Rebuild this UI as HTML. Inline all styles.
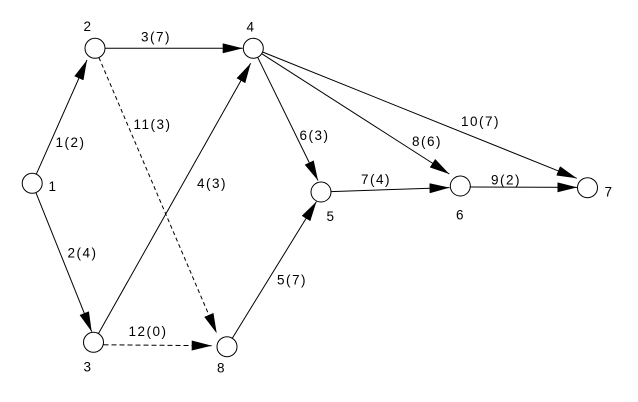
<!DOCTYPE html>
<html>
<head>
<meta charset="utf-8">
<style>
html,body{margin:0;padding:0;background:#fff;}
svg{display:block;}
text{font-family:"Liberation Sans",Arial,sans-serif;font-size:13.5px;letter-spacing:1.5px;fill:#000;}
</style>
</head>
<body>
<svg width="638" height="402" viewBox="0 0 638 402" xmlns="http://www.w3.org/2000/svg">
<defs>
<marker id="ah" markerUnits="userSpaceOnUse" markerWidth="20" markerHeight="10" viewBox="0 0 20 10" refX="20" refY="5" orient="auto">
<path d="M0,0 L20,5 L0,10 z" fill="#000"/>
</marker>
</defs>
<g stroke="#000" stroke-width="1" fill="none">
<line x1="36.3" y1="174.2" x2="87" y2="60" marker-end="url(#ah)"/>
<line x1="35.9" y1="192.6" x2="91.7" y2="331.7" marker-end="url(#ah)"/>
<line x1="105.3" y1="48.3" x2="242.7" y2="48.3" marker-end="url(#ah)"/>
<line x1="98.9" y1="57.5" x2="216.7" y2="333.3" stroke-dasharray="4,3" marker-end="url(#ah)"/>
<line x1="98.4" y1="333.6" x2="250.7" y2="63.3" marker-end="url(#ah)"/>
<line x1="103.5" y1="344.8" x2="211.7" y2="345.7" stroke-dasharray="5,3" marker-end="url(#ah)"/>
<line x1="232.3" y1="338.2" x2="316.5" y2="201.5" marker-end="url(#ah)"/>
<line x1="257.7" y1="57.3" x2="318" y2="180.5" marker-end="url(#ah)"/>
<line x1="261.7" y1="53.7" x2="449.3" y2="174" marker-end="url(#ah)"/>
<line x1="262.6" y1="52" x2="576.7" y2="178.3" marker-end="url(#ah)"/>
<line x1="331" y1="191.6" x2="449.5" y2="187.6" marker-end="url(#ah)"/>
<line x1="470.3" y1="187" x2="577.3" y2="187.4" marker-end="url(#ah)"/>

<circle cx="32.2" cy="183.3" r="10" fill="#fff"/>
<circle cx="95" cy="48.3" r="10" fill="#fff"/>
<circle cx="93.5" cy="342.3" r="10" fill="#fff"/>
<circle cx="253.3" cy="48.3" r="10" fill="#fff"/>
<circle cx="321" cy="192" r="10" fill="#fff"/>
<circle cx="460.3" cy="186" r="10" fill="#fff"/>
<circle cx="587.5" cy="187.7" r="10" fill="#fff"/>
<circle cx="227" cy="346.7" r="10" fill="#fff"/>
</g>

<text x="48.5" y="191">1</text>
<text x="83.5" y="31">2</text>
<text x="83.5" y="371.5">3</text>
<text x="246.5" y="31.5">4</text>
<text x="326.5" y="221">5</text>
<text x="456" y="219.5">6</text>
<text x="604.5" y="196.5">7</text>
<text x="217" y="372.5">8</text>

<text x="141" y="41.5">3(7)</text>
<text x="133.5" y="129">11(3)</text>
<text x="55.5" y="147">1(2)</text>
<text x="197" y="188">4(3)</text>
<text x="299.5" y="140">6(3)</text>
<text x="412" y="146">8(6)</text>
<text x="461" y="126">10(7)</text>
<text x="361" y="184">7(4)</text>
<text x="491" y="184.5">9(2)</text>
<text x="67.5" y="257.5">2(4)</text>
<text x="277" y="284.5">5(7)</text>
<text x="128.5" y="336">12(0)</text>
</svg>
</body>
</html>
